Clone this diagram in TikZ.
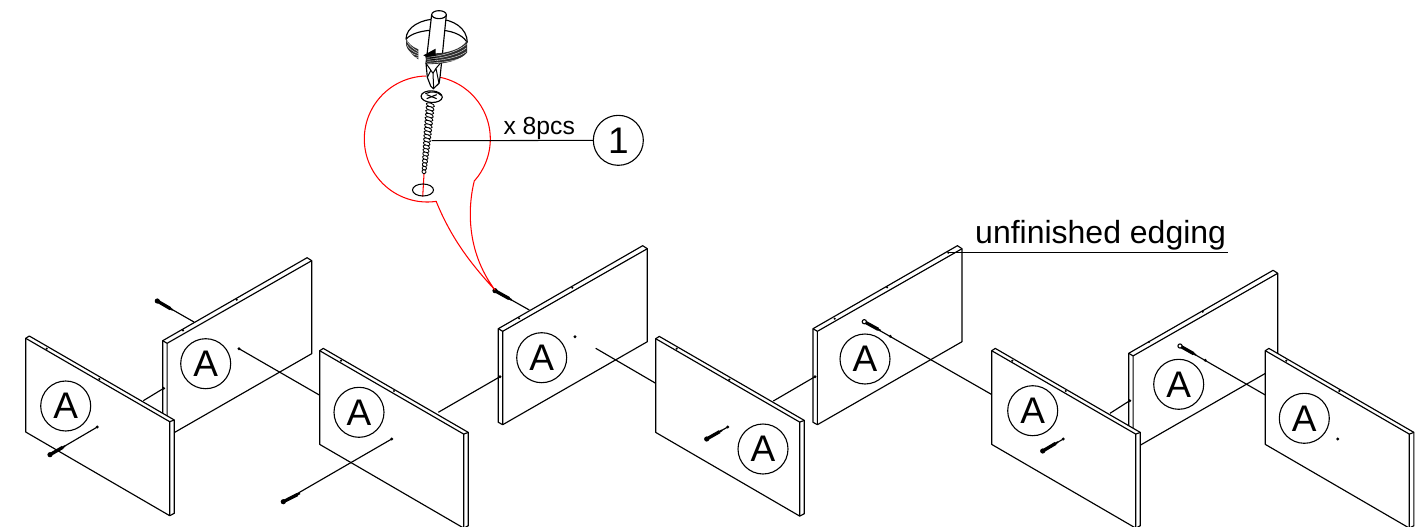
\documentclass[tikz,border=0pt]{standalone}
\usepackage{fontspec}
\setmainfont{Liberation Sans}
\tikzset{
  ln/.style={line width=1.15pt,black,line join=round},
  mk/.style={circle,draw,line width=1.1pt,fill=white,minimum size=50pt,inner sep=0pt,font=\fontsize{37}{37}\selectfont},
  red line/.style={line width=1.05pt,red,line join=round}
}
\newcommand\panelL[1]{\begin{scope}[shift={#1}]
  \draw[ln,fill=white] (0,0)--(3.6,-2.3)--(148.6,81.7)--(148.6,175)--(144,177.4)--(0,93.7)--cycle;
  \draw[ln] (0,0)--(144,83.4)--(144,177.4) (144,83.4)--(148.6,81.7);
\end{scope}}
\newcommand\panelR[1]{\begin{scope}[shift={#1}]
  \draw[ln,fill=white] (0,0)--(144.4,-83)--(149,-80)--(149,13)--(4.4,96)--(0,93.6)--cycle;
  \draw[ln] (0,0)--(4.4,2.6)--(149,-80) (4.4,2.6)--(4.4,96);
\end{scope}}
\newcommand\dotat[1]{\fill #1 circle (1.6pt);}
\newcommand\smallhole[1]{\fill #1 circle (1.2pt);}
% solid screw: head, neck
\newcommand\screwS[2]{\draw[line width=3.3pt] #1 -- ($#1!.85!#2$); \draw[line width=1.8pt] #1 -- #2; \fill #1 circle (2.6pt);}
\newcommand\screwH[2]{\draw[line width=3.3pt] #1 -- ($#1!.85!#2$); \draw[line width=1.8pt] #1 -- #2; \draw[line width=1.1pt,fill=white] #1 circle (2.1pt);}
\usetikzlibrary{calc}
\begin{document}
\begin{tikzpicture}[x=1pt,y=-1pt]
\useasboundingbox (0,0) rectangle (1426,527);
\fill[white] (0,0) rectangle (1426,527);
% panels, back to front
\panelR{(162.7,340.7)}
\panelL{(25.7,338.3)}
\panelL{(319.7,350.7)}
\panelR{(498.3,328.7)}
\panelL{(655.7,338.7)}
\panelR{(813,328.7)}
\panelR{(1128.7,353.3)}
\panelL{(991.7,350.7)}
\panelL{(1265.3,350.7)}
% markers
\node[mk] (a1) at (65.7,406) {A};
\node[mk] (a2) at (205.7,363.7) {A};
\node[mk] (a3) at (359,412.3) {A};
\node[mk] (a4) at (541.7,357.7) {A};
\node[mk] (a5) at (763,449) {A};
\node[mk] (a6) at (865,359) {A};
\node[mk] (a7) at (1032.7,410.7) {A};
\node[mk] (a8) at (1178.7,384.3) {A};
\node[mk] (a9) at (1304.3,418.3) {A};
% edge holes
\foreach \p in {(46.7,348.7),(99.3,379),(183,330.3),(236.7,299.7),(341,360.7),(394,391),(519,318.3),(572.3,287.7),(676.7,348.7),(729.3,379.7),(834.7,318.7),(887,287.3),(948.3,252.7),(1012.3,360.7),(1065.7,391),(1149,342),(1202.7,311.7),(1286.3,360.7),(1339.3,391)}
  {\smallhole{\p}}
% assembly lines
\draw[ln] (97.3,427)--(50,454.7);
\draw[ln] (143.3,400.7)--(163.7,388.3);
\draw[ln] (157.3,301)--(194,322);
\draw[ln] (239,348.7)--(319.3,395);
\draw[ln] (391.7,439)--(283.3,501.7);
\draw[ln] (438.3,412.3)--(500,376.7);
\draw[ln] (495,290.7)--(529.3,310);
\draw[ln] (595.7,348.3)--(655.7,383.3);
\draw[ln] (773.3,401)--(815,376.7);
\draw[ln] (864.3,321.7)--(991.3,394.3);
\draw[ln] (1110,413.3)--(1129.7,400.7);
\draw[ln] (1180,346)--(1265.3,395);
\draw[ln] (1042.7,451)--(1063.3,439);
\draw[ln] (706.7,439)--(727.7,427);
\foreach \p in {(97.3,427),(163.7,388.3),(239,348.7),(391.7,439),(500,376.7),(575,336.7),(815,376.7),(727.7,427),(890.3,336.3),(1063.3,439),(1129.7,400.7),(1205.3,360.3),(1337.7,439)}
  {\dotat{\p}}
% small screws
\screwS{(50,454.7)}{(65,446)}
\screwS{(157.3,301)}{(172.7,310)}
\screwS{(283.3,501.7)}{(300,493.3)}
\screwS{(495,290.7)}{(511.7,300)}
\screwS{(706.7,439)}{(722,430.3)}
\screwH{(864.3,321.7)}{(880.7,330.7)}
\screwS{(1042.7,451)}{(1058,442)}
\screwH{(1180,346)}{(1196,355)}
% leader for the edging label
\coordinate (edge) at (948.3,252.7);
\coordinate (edgeEnd) at (1228,252.7);
\draw[line width=1.05pt] (edge)--(edgeEnd);
\node[anchor=base west,inner sep=0pt,font=\fontsize{32}{32}\selectfont] (lab) at (975,243) {unfinished edging};
% balloon
\draw[red line] plot[domain=-78.4:41.8,samples=60] ({427.3+63*cos(\x)},{139+63*sin(\x)})
  .. controls (468.3,205) and (465,250) .. (495,290)
  .. controls (472,265) and (452,240) .. (436.3,201.7)
  -- plot[domain=81.8:268.8,samples=80] ({427.3+63*cos(\x)},{139+63*sin(\x)});
\draw[red line] (424,174)--(422.7,196.7);
% detail drawn in zoom-crop units
\begin{scope}[shift={(340,0)},x=.33333pt,y=-.33333pt]
  % hole
  \draw[line width=1.05pt] (249,570) ellipse [x radius=31.5pt/3*1,y radius=6pt];
  % threads
  \foreach \i in {0,...,19}{
    \pgfmathsetmacro\tx{271-\i*19/19}
    \pgfmathsetmacro\px{271-19*\i/19}
    \pgfmathsetmacro\py{315+(515-315)*\i/19}
    \pgfmathsetmacro\rr{4.2-2.2*(\i/19)*(\i/19)}
    \draw[line width=.85pt,fill=white,rotate around={-20:(\px,\py)}] (\px,\py) ellipse [x radius=\rr pt,y radius=1.9pt];
  }
  % screw head
  \draw[line width=1.15pt,fill=white,rotate around={-3:(275,290)}] (275,290) ellipse [x radius=10.6pt,y radius=5.8pt];
  \draw[line width=1.1pt] (260,284)..controls (270,286)..(275,290)..controls (280,294)..(290,296);
  \draw[line width=1.1pt] (290,284)..controls (280,286)..(275,290)..controls (270,294)..(260,296);
  \draw[line width=1.1pt] (256,281)..controls (275,272) and (295,276)..(303,286);
  % leader to part number
  \node[circle,draw,line width=1.1pt,minimum size=50pt,inner sep=0pt,font=\fontsize{37}{37}\selectfont] (one) at (835,421) {1};
  \coordinate (scr) at (275,422);
  \draw[line width=1.05pt] (scr)--(one);
  \node[anchor=base west,inner sep=0pt,font=\fontsize{24.7}{24.7}\selectfont] (qty) at (490,403) {x 8pcs};
  % rotation band: back
  \draw[line width=1.15pt] (198,118)..controls (198,80) and (245,57)..(290,57)..controls (340,57) and (382,85)..(382,128);
  \draw[line width=1.15pt] (198,118)..controls (212,100) and (250,90)..(290,90)..controls (330,90) and (365,102)..(380,125);
  % screwdriver
  \draw[line width=1.15pt,fill=white] (275,44)--(258,190)--(262,232)--(272,258)--(280,266)--(297,250)--(300,232)--(305,185)--(319,44)--cycle;
  \draw[line width=1.15pt,fill=white] (297,44) ellipse [x radius=7.3pt,y radius=4pt];
  \draw[line width=1pt] (258,190)--(279,220)--(281,265) (305,185)--(288,205)--(279,220) (262,232)--(272,212) (297,250)--(288,205);
  % rotation band: dark front
  \fill[black!82] (198,115)--(198,135)..controls (202,150) and (215,165)..(235,178)--(235,148)..controls (215,140) and (205,130)..(198,115)--cycle;
  \fill[black!82] (381,122)--(381,158)..controls (365,178) and (320,194)..(262,192)--(256,170)--(285,160)..controls (320,160) and (365,148)..(381,122)--cycle;
  \fill (250,166)--(287,146)--(287,186)--cycle;
  \foreach \k in {0,1,2,3}{
    \draw[white,line width=.35pt] (200,122+\k*12)..controls (206,135+\k*10) and (218,146+\k*9)..(235,155+\k*6);
    \draw[white,line width=.35pt] (379,133+\k*11)..controls (360,150+\k*10) and (320,166+\k*7)..(262,172+\k*6);
  }
\end{scope}
\end{tikzpicture}
\end{document}
